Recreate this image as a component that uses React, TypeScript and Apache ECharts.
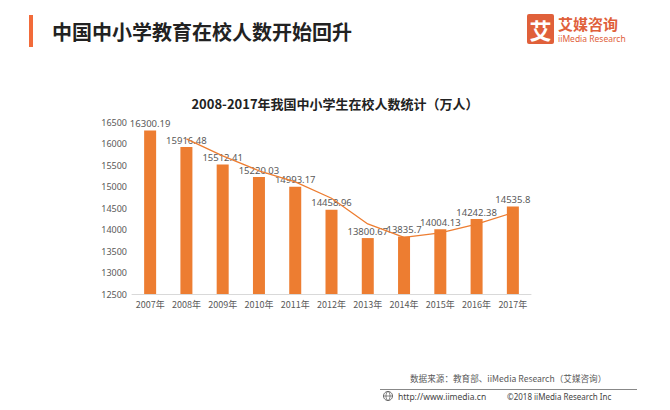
import React, { useEffect, useRef } from "react";
import * as echarts from "echarts";

const years = ["2007年", "2008年", "2009年", "2010年", "2011年", "2012年", "2013年", "2014年", "2015年", "2016年", "2017年"];
const students = [16300.19, 15916.48, 15512.41, 15220.03, 14993.17, 14458.96, 13800.67, 13835.7, 14004.13, 14242.38, 14535.8];
const labelTexts = ["16300.19", "15916.48", "15512.41", "15220.03", "14993.17", "14458.96", "13800.67", "13835.7", "14004.13", "14242.38", "14535.8"];
// trend line (starts at 2008)
const trend = [null, 16108, 15714, 15366, 15107, 14726, 14130, 13818, 13920, 14123, 14389];

const ORANGE = "#ED7D31";

export default function App() {
  const ref = useRef<HTMLDivElement>(null);
  useEffect(() => {
    const chart = echarts.init(ref.current!, null, { renderer: "svg" });
    chart.setOption({
      animation: false,
      backgroundColor: "#ffffff",
      grid: { left: 132, right: 139, top: 122, bottom: 116 },
      xAxis: {
        type: "category",
        data: years,
        axisLine: { lineStyle: { color: "#d9d9d9" } },
        axisTick: { show: false },
        axisLabel: { color: "#595959", fontSize: 9, margin: 6, interval: 0, fontFamily: "Noto Sans CJK SC" },
      },
      yAxis: {
        type: "value",
        min: 12500,
        max: 16500,
        interval: 500,
        axisLine: { show: false },
        axisTick: { show: false },
        splitLine: { show: false },
        axisLabel: { color: "#595959", fontSize: 9, margin: 5, fontFamily: "Noto Sans", formatter: (v: number) => String(v) },
      },
      series: [
        {
          type: "bar",
          data: students,
          barWidth: 12,
          itemStyle: { color: ORANGE },
          label: {
            show: true,
            position: "top",
            distance: 2,
            color: "#595959",
            fontSize: 9.5,
            fontFamily: "Noto Sans",
            formatter: (p: any) => labelTexts[p.dataIndex],
          },
        },
        {
          type: "line",
          data: trend,
          showSymbol: false,
          symbol: "none",
          lineStyle: { color: ORANGE, width: 1.3 },
          z: 3,
        },
      ],
      graphic: [
        { type: "rect", shape: { x: 29, y: 15, width: 4, height: 32 }, style: { fill: "#F26B3A" } },
        {
          type: "text",
          x: 52,
          y: 31,
          style: { text: "中国中小学教育在校人数开始回升", fill: "#222222", fontSize: 20, fontWeight: "bold", fontFamily: "Noto Sans CJK SC", verticalAlign: "middle" },
        },
        { type: "rect", shape: { x: 527, y: 14, width: 27, height: 30, r: 2 }, style: { fill: "#E0603A" } },
        {
          type: "text",
          x: 540.5,
          y: 29,
          style: { text: "艾", fill: "#ffffff", fontSize: 22, fontWeight: "bold", fontFamily: "Noto Sans CJK SC", align: "center", verticalAlign: "middle" },
        },
        {
          type: "text",
          x: 558,
          y: 23,
          style: { text: "艾媒咨询", fill: "#E0603A", fontSize: 15, fontWeight: "bold", fontFamily: "Noto Sans CJK SC", verticalAlign: "middle" },
        },
        {
          type: "text",
          x: 558,
          y: 38,
          style: { text: "iiMedia Research", fill: "#E0603A", fontSize: 8.5, fontFamily: "Noto Sans", verticalAlign: "middle" },
        },
        {
          type: "text",
          x: 335,
          y: 103,
          style: { text: "2008-2017年我国中小学生在校人数统计（万人）", fill: "#222222", fontSize: 13, fontWeight: "bold", fontFamily: "Noto Sans CJK SC", align: "center", verticalAlign: "middle" },
        },
        {
          type: "text",
          x: 410,
          y: 378,
          style: { text: "数据来源：教育部、iiMedia Research（艾媒咨询）", fill: "#595959", fontSize: 8.6, fontFamily: "Noto Sans CJK SC", verticalAlign: "middle" },
        },
        { type: "line", shape: { x1: 380, y1: 389.5, x2: 637, y2: 389.5 }, style: { stroke: "#888888", lineWidth: 1 } },
        { type: "circle", shape: { cx: 388, cy: 396, r: 4.5 }, style: { fill: "none", stroke: "#666666", lineWidth: 1 } },
        { type: "line", shape: { x1: 383.5, y1: 396, x2: 392.5, y2: 396 }, style: { stroke: "#666666", lineWidth: 0.8 } },
        { type: "ellipse", shape: { cx: 388, cy: 396, rx: 2, ry: 4.5 }, style: { fill: "none", stroke: "#666666", lineWidth: 0.8 } },
        {
          type: "text",
          x: 398,
          y: 396,
          style: { text: "http://www.iimedia.cn", fill: "#444444", fontSize: 8.5, fontFamily: "Noto Sans", verticalAlign: "middle" },
        },
        {
          type: "text",
          x: 507,
          y: 396,
          style: { text: "©2018 iiMedia Research Inc", fill: "#444444", fontSize: 8, fontFamily: "Noto Sans", verticalAlign: "middle" },
        },
      ],
    });
    return () => chart.dispose();
  }, []);
  return <div ref={ref} style={{ position: "fixed", left: 0, top: 0, width: 670, height: 410 }} />;
}
